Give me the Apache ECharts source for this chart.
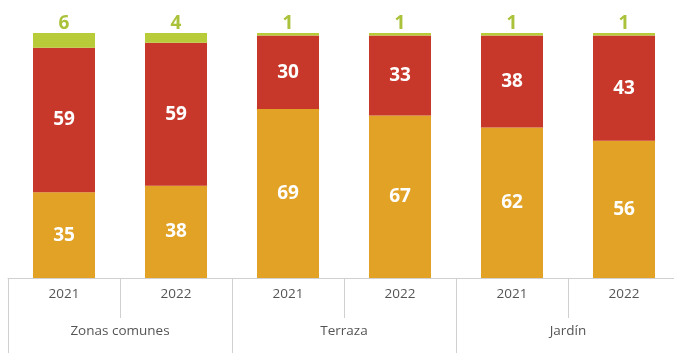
<!DOCTYPE html>
<html><head><meta charset="utf-8">
<style>html,body{margin:0;padding:0;background:#fff;overflow:hidden}#c{width:680px;height:353px}</style>
<script src="https://cdn.jsdelivr.net/npm/echarts@6/dist/echarts.min.js"></script>
</head><body><div id="c"></div>
<script>
const years = ['2021','2022','2021','2022','2021','2022'];
const groups = ['Zonas comunes','Terraza','Jardín'];
const bottomVals = [35,38,69,67,62,56];
const middleVals = [59,59,30,33,38,43];
const topVals = [6,4,1,1,1,1];

const totals = bottomVals.map((v,i)=>v+middleVals[i]+topVals[i]);
const pct = arr => arr.map((v,i)=>({value:v/totals[i]*100, raw:v}));

const labelFont = {fontFamily:'Open Sans', fontWeight:'bold', fontSize:19};
const chart = echarts.init(document.getElementById('c'));
chart.setOption({
  animation:false,
  grid:{left:8, top:33, bottom:75, right:0},
  xAxis:[
    {type:'category', data:years, position:'bottom',
     axisLine:{show:true, lineStyle:{color:'#d0d0d0', width:1}},
     axisTick:{show:true, interval:0, length:40, lineStyle:{color:'#d0d0d0'}},
     axisLabel:{interval:0, margin:9, color:'#555', fontFamily:'Open Sans', fontSize:13.5}},
    {type:'category', data:groups, position:'bottom',
     axisLine:{show:false},
     axisTick:{show:true, interval:0, length:80, lineStyle:{color:'#d0d0d0'}},
     axisLabel:{interval:0, margin:46, color:'#555', fontFamily:'Open Sans', fontSize:13.5}}
  ],
  yAxis:{type:'value', min:0, max:100, show:false},
  series:[
    {type:'bar', stack:'s', barWidth:62, data:pct(bottomVals), itemStyle:{color:'#e1a226'},
     label:{show:true, position:'inside', color:'#fff', ...labelFont, formatter:p=>p.data.raw}},
    {type:'bar', stack:'s', barWidth:62, data:pct(middleVals), itemStyle:{color:'#c8382a'},
     label:{show:true, position:'inside', color:'#fff', ...labelFont, formatter:p=>p.data.raw}},
    {type:'bar', stack:'s', barWidth:62, data:pct(topVals), itemStyle:{color:'#b7cc38'},
     label:{show:true, position:'top', distance:0, color:'#a9c23a', ...labelFont, formatter:p=>p.data.raw}}
  ]
});
</script></body></html>
